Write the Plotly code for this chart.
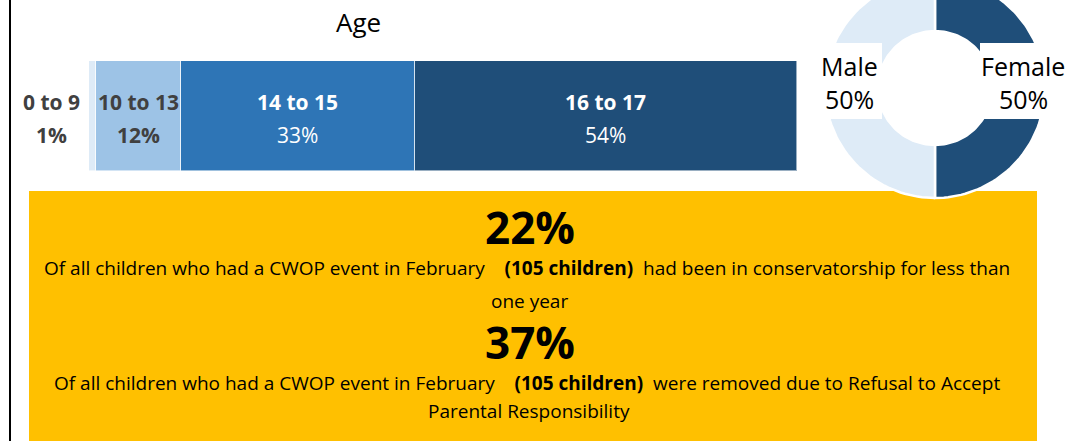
import numpy as np
import plotly.graph_objects as go

W, H = 1076, 441

# age breakdown
age_groups = ["0 to 9", "10 to 13", "14 to 15", "16 to 17"]
age_pct = [1, 12, 33, 54]
age_colors = ["#DEEBF7", "#9DC3E6", "#2E75B6", "#1F4E79"]
age_text_colors = ["#404040", "#404040", "white", "white"]

# gender donut
genders = ["Female", "Male"]
gender_pct = [50, 50]
gender_colors = ["#1F4E79", "#DEEBF7"]

# headline facts
headline_pct = [22, 37]
children_n = [105, 105]
fact_tail = ["had been in conservatorship for less than",
             "were removed due to Refusal to Accept"]
fact_wrap = ["one year", "Parental Responsibility"]

FONT = "Open Sans"


def px_x(p):
    return p / W


def px_y(p):
    return 1 - p / H


def note(text, x, y, size, color="black", xref="paper", xshift=0):
    return dict(text=text, x=x, y=y, xref=xref, yref="paper", xanchor="center",
                yanchor="middle", xshift=xshift, showarrow=False,
                font=dict(size=size, color=color))


fig = go.Figure()

# stacked age bar
for g, v, c in zip(age_groups, age_pct, age_colors):
    fig.add_trace(go.Bar(
        y=["Age"], x=[v], orientation="h", name=g,
        marker=dict(color=c, line=dict(color="rgba(255,255,255,0.55)", width=1)),
        hoverinfo="skip", xaxis="x", yaxis="y",
    ))

# donut drawn on its own pixel-scaled axes so the top gets clipped like the original
R_OUT, R_IN = 110, 57
start = 0.0
for g, v, c in zip(genders, gender_pct, gender_colors):
    frac0 = start / sum(gender_pct)
    frac1 = (start + v) / sum(gender_pct)
    t = np.linspace(np.pi / 2 - 2 * np.pi * frac0, np.pi / 2 - 2 * np.pi * frac1, 80)
    xs = np.concatenate([R_OUT * np.cos(t), R_IN * np.cos(t[::-1]), [R_OUT * np.cos(t[0])]])
    ys = np.concatenate([R_OUT * np.sin(t), R_IN * np.sin(t[::-1]), [R_OUT * np.sin(t[0])]])
    fig.add_trace(go.Scatter(
        x=xs, y=ys, mode="lines", fill="toself", fillcolor=c,
        line=dict(color="white", width=2.5), hoverinfo="skip",
        xaxis="x2", yaxis="y2", showlegend=False,
    ))
    start += v

annotations = [note("Age", px_x(358), px_y(22), 26)]

# bar labels
cum = np.cumsum([0] + age_pct)
for i, (g, v, tc) in enumerate(zip(age_groups, age_pct, age_text_colors)):
    if i == 0:
        xpos, xshift = 0, -38   # smallest group sits left of the bar
    else:
        xpos, xshift = (cum[i] + cum[i + 1]) / 2, 0
    pct_txt = f"<b>{v}%</b>" if tc != "white" else f"{v}%"
    annotations.append(note(f"<b>{g}</b>", xpos, px_y(102), 21, tc, "x", xshift))
    annotations.append(note(pct_txt, xpos, px_y(135), 21, tc, "x", xshift))

# donut labels
donut_label_x = {"Male": 849, "Female": 1023}
for g, v in zip(genders, gender_pct):
    annotations.append(note(g, px_x(donut_label_x[g]), px_y(66), 25))
    annotations.append(note(f"{v}%", px_x(donut_label_x[g]), px_y(99), 25))

# yellow fact box text
nb = "\u00a0"
rows = [(227, 342), (268, 383), (301, 411)]
for k in range(2):
    annotations.append(note(f"<b>{headline_pct[k]}%</b>", px_x(530), px_y(rows[0][k]), 44))
    line = (f"Of all children who had a CWOP event in February{nb * 4}"
            f"<b>({children_n[k]} children)</b>{nb * 2}{fact_tail[k]}")
    annotations.append(note(line, px_x(527), px_y(rows[1][k]), 19))
    annotations.append(note(fact_wrap[k], px_x(529), px_y(rows[2][k]), 19))

shapes = [
    # yellow box
    dict(type="rect", xref="paper", yref="paper", x0=px_x(29), x1=px_x(1037),
         y0=px_y(441), y1=px_y(191), fillcolor="#FFC000", line=dict(width=0), layer="below"),
    # white label boxes over the donut
    dict(type="rect", xref="paper", yref="paper", x0=px_x(821), x1=px_x(882),
         y0=px_y(119), y1=px_y(43), fillcolor="white", line=dict(width=0), layer="above"),
    dict(type="rect", xref="paper", yref="paper", x0=px_x(980), x1=px_x(1066),
         y0=px_y(119), y1=px_y(43), fillcolor="white", line=dict(width=0), layer="above"),
    # left border
    dict(type="line", xref="paper", yref="paper", x0=px_x(10), x1=px_x(10),
         y0=0, y1=1, line=dict(color="black", width=2)),
]

fig.update_layout(
    width=W, height=H,
    margin=dict(l=0, r=0, t=0, b=0),
    paper_bgcolor="white", plot_bgcolor="rgba(0,0,0,0)",
    barmode="stack", bargap=0, showlegend=False,
    font=dict(family=FONT, color="black"),
    xaxis=dict(domain=[px_x(89), px_x(797)], range=[0, 100], visible=False, fixedrange=True),
    yaxis=dict(domain=[px_y(171), px_y(61)], visible=False, fixedrange=True),
    xaxis2=dict(domain=[px_x(815), px_x(1055)], range=[-120, 120], visible=False, fixedrange=True),
    yaxis2=dict(domain=[px_y(208), 1], range=[-120, 88], visible=False, fixedrange=True),
    annotations=annotations,
    shapes=shapes,
)

fig.write_html("out.html", config={"displayModeBar": False},
               post_script="document.body.style.margin='0px';")
